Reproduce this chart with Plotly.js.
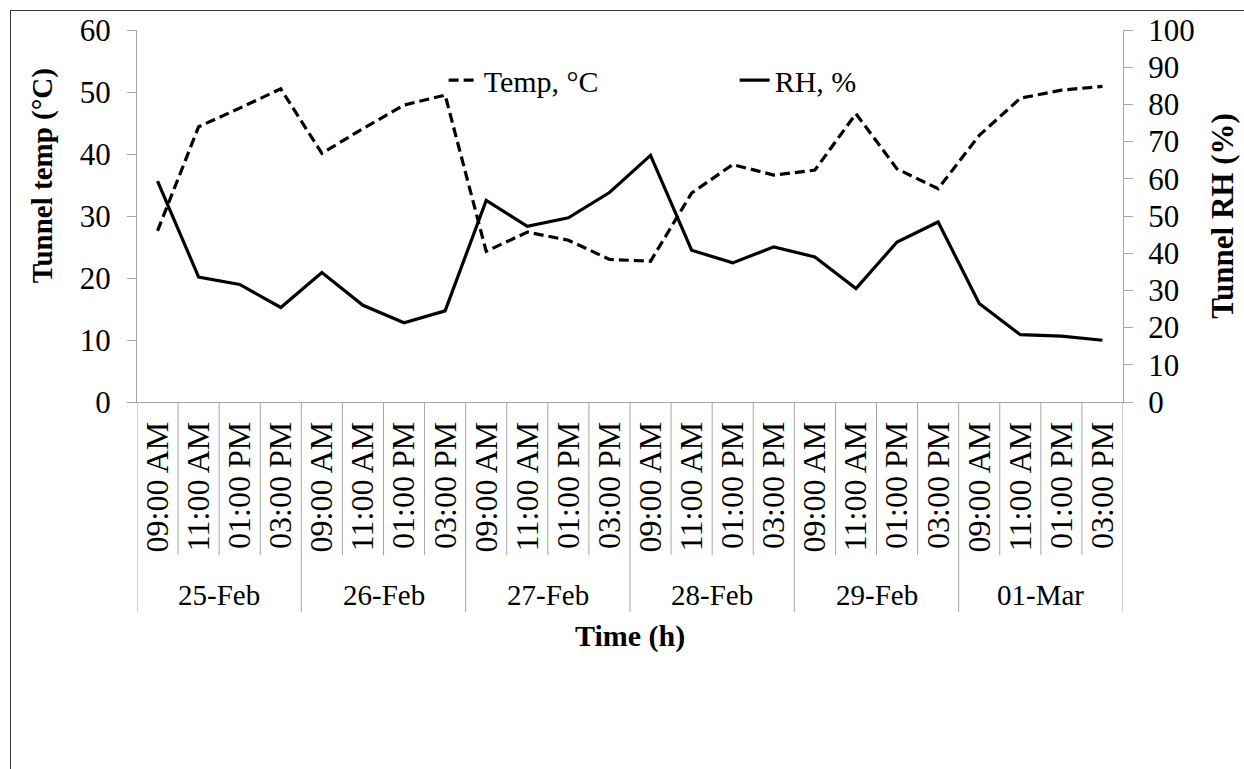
<!DOCTYPE html>
<html>
<head>
<meta charset="utf-8">
<script src="https://cdn.plot.ly/plotly-3.0.1.min.js"></script>
<style>
  html, body { margin: 0; padding: 0; background: #fff; overflow: hidden; }
  #wrap { position: relative; width: 1244px; height: 769px; }
  #chart { position: absolute; left: 0; top: 0; width: 1244px; height: 769px; }
  #frame { position: absolute; left: 10px; top: 10px; width: 1300px; height: 800px;
           border: 1px solid #3a3a3a; box-sizing: border-box; pointer-events: none; }
</style>
</head>
<body>
<div id="wrap"><div id="chart"></div><div id="frame"></div></div>
<script>
// ---- data ----
const dates = ["25-Feb", "26-Feb", "27-Feb", "28-Feb", "29-Feb", "01-Mar"];
const times = ["09:00 AM", "11:00 AM", "01:00 PM", "03:00 PM"];
const tempC = [27.6, 44.4, 47.4, 50.5, 40.1, 44.1, 47.9, 49.5, 24.3, 27.4, 26.1, 23.0,
               22.7, 33.7, 38.3, 36.6, 37.4, 46.5, 37.6, 34.4, 43.0, 49.0, 50.3, 50.9];
const rhPct = [59.4, 33.6, 31.6, 25.4, 34.8, 26.0, 21.3, 24.5, 54.2, 47.2, 49.5, 56.3,
               66.3, 40.8, 37.4, 41.7, 39.0, 30.5, 43.0, 48.4, 26.5, 18.1, 17.7, 16.6];

// ---- derived ----
const timeLabels = [];
dates.forEach(() => times.forEach(t => timeLabels.push(t)));
const idx = timeLabels.map((_, i) => i);

const FONT = "'Times New Roman', 'Liberation Serif', 'DejaVu Serif', serif";
const GRAY = "#a6a6a6";

const traces = [
  { x: idx, y: tempC, name: "Temp, °C", type: "scatter", mode: "lines",
    line: { color: "#000", width: 3.2, dash: "10px,5px" }, yaxis: "y" },
  { x: idx, y: rhPct, name: "RH, %", type: "scatter", mode: "lines",
    line: { color: "#000", width: 3.2 }, yaxis: "y2" }
];

// divider lines below the x axis
const shapes = [];
for (let k = 0; k <= timeLabels.length; k++) {
  const isGroup = (k % times.length) === 0;
  shapes.push({ type: "line", xref: "x", yref: "paper", x0: k - 0.5, x1: k - 0.5,
    y0: 0, y1: isGroup ? -0.565 : -0.412, line: { color: GRAY, width: 1 } });
}

const annotations = dates.map((d, g) => ({
  xref: "x", yref: "paper", x: g * times.length + (times.length - 1) / 2, y: -0.518,
  text: d, showarrow: false, xanchor: "center", yanchor: "middle",
  font: { family: FONT, size: 29, color: "#000" }
}));
annotations.push({
  xref: "paper", yref: "paper", x: -0.0963, y: 0.607, text: "Tunnel temp (°C)",
  textangle: -90, showarrow: false, xanchor: "center", yanchor: "middle",
  font: { family: FONT, size: 29, color: "#000", weight: "bold" }
});
annotations.push({
  xref: "paper", yref: "paper", x: 0.5, y: -0.629, text: "Time (h)",
  showarrow: false, xanchor: "center", yanchor: "middle",
  font: { family: FONT, size: 30, color: "#000", weight: "bold" }
});

const layout = {
  width: 1244, height: 769,
  margin: { l: 137, r: 121, t: 30, b: 367 },
  paper_bgcolor: "rgba(0,0,0,0)", plot_bgcolor: "rgba(0,0,0,0)",
  font: { family: FONT, color: "#000" },
  showlegend: true,
  legend: { orientation: "h", x: 0.311, y: 0.865, xanchor: "left", yanchor: "middle",
    font: { family: FONT, size: 30, color: "#000" }, bgcolor: "rgba(0,0,0,0)",
    entrywidth: 246, entrywidthmode: "pixels", traceorder: "normal" },
  xaxis: { range: [-0.5, timeLabels.length - 0.5], tickvals: idx, ticktext: timeLabels,
    tickangle: -90, ticks: "", ticklabelstandoff: 6, showline: true, linecolor: GRAY, linewidth: 1,
    showgrid: false, zeroline: false, tickfont: { family: FONT, size: 32, color: "#000" } },
  yaxis: { range: [0, 60], dtick: 10, tick0: 0, ticks: "outside", ticklen: 9, tickcolor: GRAY,
    ticklabelstandoff: 10,
    showline: true, linecolor: GRAY, linewidth: 1, showgrid: false, zeroline: false,
    tickfont: { family: FONT, size: 31, color: "#000" } },
  yaxis2: { range: [0, 100], dtick: 10, tick0: 0, overlaying: "y", side: "right",
    ticks: "outside", ticklen: 9, tickcolor: GRAY, ticklabelstandoff: 9,
    showline: true, linecolor: GRAY,
    linewidth: 1, showgrid: false, zeroline: false,
    tickfont: { family: FONT, size: 31, color: "#000" },
    title: { text: "Tunnel RH (%)", standoff: 17, font: { family: FONT, size: 31, color: "#000", weight: "bold" } } },
  shapes: shapes,
  annotations: annotations
};

Plotly.newPlot("chart", traces, layout, { displayModeBar: false, staticPlot: true });
</script>
</body>
</html>
